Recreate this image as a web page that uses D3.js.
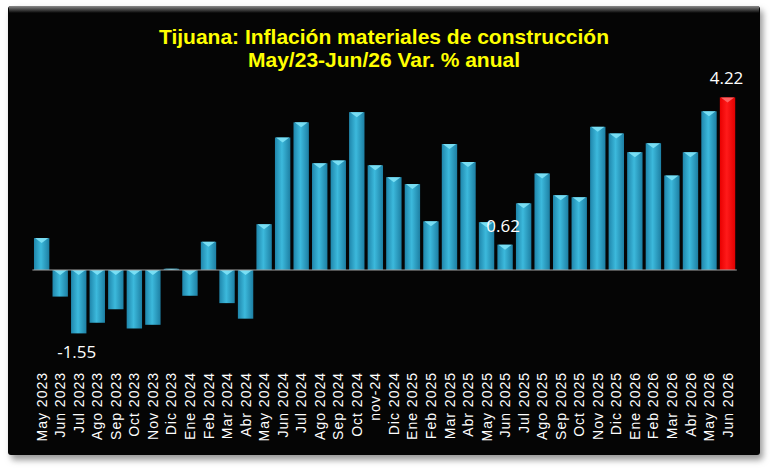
<!DOCTYPE html>
<html>
<head>
<meta charset="utf-8">
<script src="https://cdn.jsdelivr.net/npm/d3@7/dist/d3.min.js"></script>
<style>
  html, body { margin: 0; padding: 0; background: #ffffff; }
  svg { display: block; }
</style>
</head>
<body>
<svg id="chart" width="770" height="470"></svg>
<script>
// ---- Data ----
const titleLines = ["Tijuana: Inflación materiales de construcción", "May/23-Jun/26 Var. % anual"];
const categories = [
  "May 2023","Jun 2023","Jul 2023","Ago 2023","Sep 2023","Oct 2023","Nov 2023","Dic 2023",
  "Ene 2024","Feb 2024","Mar 2024","Abr 2024","May 2024","Jun 2024","Jul 2024","Ago 2024",
  "Sep 2024","Oct 2024","nov-24","Dic 2024","Ene 2025","Feb 2025","Mar 2025","Abr 2025",
  "May 2025","Jun 2025","Jul 2025","Ago 2025","Sep 2025","Oct 2025","Nov 2025","Dic 2025",
  "Ene 2026","Feb 2026","Mar 2026","Abr 2026","May 2026","Jun 2026"
];
const values = [
  0.78, -0.65, -1.55, -1.29, -0.96, -1.43, -1.34, 0.03,
  -0.63, 0.69, -0.81, -1.19, 1.12, 3.24, 3.61, 2.61,
  2.68, 3.86, 2.56, 2.27, 2.10, 1.19, 3.08, 2.64,
  1.17, 0.62, 1.63, 2.36, 1.83, 1.78, 3.50, 3.34,
  2.88, 3.10, 2.31, 2.88, 3.88, 4.22
];
const labeledCategories = ["Jul 2023", "Jun 2025", "Jun 2026"];
const highlightCategory = "Jun 2026";
const yDomain = [-2, 5];

// ---- Drawing ----
const svg = d3.select("#chart");
const defs = svg.append("defs");

const blur = defs.append("filter").attr("id", "shadow")
  .attr("x", "-5%").attr("y", "-5%").attr("width", "110%").attr("height", "112%");
blur.append("feGaussianBlur").attr("stdDeviation", 3);

const bevel = defs.append("linearGradient").attr("id", "bevel")
  .attr("x1", 0).attr("y1", 0).attr("x2", 0).attr("y2", 1);
bevel.append("stop").attr("offset", "0%").attr("stop-color", "#8a8a8a");
bevel.append("stop").attr("offset", "100%").attr("stop-color", "#050505");

const barGrad = defs.append("linearGradient").attr("id", "barGrad")
  .attr("x1", 0).attr("y1", 0).attr("x2", 1).attr("y2", 0);
barGrad.append("stop").attr("offset", "0%").attr("stop-color", "#1f86ab");
barGrad.append("stop").attr("offset", "45%").attr("stop-color", "#3cb9dc");
barGrad.append("stop").attr("offset", "100%").attr("stop-color", "#1d7fa3");

const redGrad = defs.append("linearGradient").attr("id", "redGrad")
  .attr("x1", 0).attr("y1", 0).attr("x2", 1).attr("y2", 0);
redGrad.append("stop").attr("offset", "0%").attr("stop-color", "#e80000");
redGrad.append("stop").attr("offset", "45%").attr("stop-color", "#ff1a1a");
redGrad.append("stop").attr("offset", "100%").attr("stop-color", "#e00000");

// frame + shadow
svg.append("rect").attr("x", 11).attr("y", 10).attr("width", 752).attr("height", 450)
  .attr("rx", 4).attr("fill", "#9a9a9a").attr("filter", "url(#shadow)");
svg.append("rect").attr("x", 8).attr("y", 6).attr("width", 752).attr("height", 449)
  .attr("rx", 3).attr("fill", "#050505");
svg.append("rect").attr("x", 9).attr("y", 6).attr("width", 750).attr("height", 7)
  .attr("fill", "url(#bevel)");

// title
const title = svg.append("text")
  .attr("text-anchor", "middle")
  .attr("font-family", "'Liberation Sans Narrow', 'Arial Narrow', sans-serif")
  .attr("font-weight", "bold")
  .attr("font-size", 21)
  .attr("fill", "#ffff00");
title.selectAll("tspan").data(titleLines).join("tspan")
  .attr("x", 384)
  .attr("y", (d, i) => 44 + i * 23)
  .text(d => d);

// scales
const x = d3.scaleBand().domain(categories).range([32.4, 736.8])
  .paddingInner(0.17).paddingOuter(0.085);
const pxPerUnit = 40.9;
const y = d3.scaleLinear().domain(yDomain)
  .range([270 - yDomain[0] * pxPerUnit, 270 - yDomain[1] * pxPerUnit]);

const data = categories.map((c, i) => ({ c, v: values[i] }));

// bars
const bw = x.bandwidth();
const g = svg.append("g");
data.forEach(d => {
  const top = Math.min(y(d.v), y(0));
  const h = Math.abs(y(d.v) - y(0));
  const isRed = d.c === highlightCategory;
  g.append("rect")
    .attr("x", x(d.c)).attr("y", top).attr("width", bw).attr("height", h)
    .attr("fill", isRed ? "url(#redGrad)" : "url(#barGrad)");
  const th = Math.min(5, h);
  const x0 = x(d.c);
  g.append("path")
    .attr("d", `M${x0 + 1},${top} L${x0 + bw - 1},${top} L${x0 + bw / 2},${top + th} Z`)
    .attr("fill", isRed ? "#ff6a6a" : "#7fe3f7")
    .attr("opacity", 0.9);
});

// zero line
svg.append("line")
  .attr("x1", x.range()[0]).attr("x2", x.range()[1])
  .attr("y1", y(0)).attr("y2", y(0))
  .attr("stroke", "#a0a0a0").attr("stroke-width", 1.2);

// value labels
data.filter(d => labeledCategories.includes(d.c)).forEach(d => {
  const cx = x(d.c) + bw / 2;
  const ty = d.v < 0 ? y(d.v) + 25 : y(d.v) - 13;
  svg.append("text")
    .attr("x", d.c === "Jun 2026" ? cx - 1 : cx - 2)
    .attr("y", ty)
    .attr("text-anchor", "middle")
    .attr("font-family", "'Open Sans', sans-serif")
    .attr("font-size", 17)
    .attr("fill", "#ffffff")
    .text(d.v.toFixed(2));
});

// x-axis labels (rotated)
const xAxis = d3.axisBottom(x).tickSize(0).tickPadding(0);
const ax = svg.append("g").attr("transform", `translate(0,372)`).call(xAxis);
ax.select(".domain").remove();
ax.selectAll("text")
  .attr("transform", "rotate(-90)")
  .attr("x", 0).attr("y", 0).attr("dy", "0.36em")
  .attr("text-anchor", "end")
  .attr("fill", "#ffffff")
  .attr("font-family", "'Liberation Sans', Arial, sans-serif")
  .attr("font-size", 14)
  .attr("letter-spacing", "1px");
</script>
</body>
</html>
